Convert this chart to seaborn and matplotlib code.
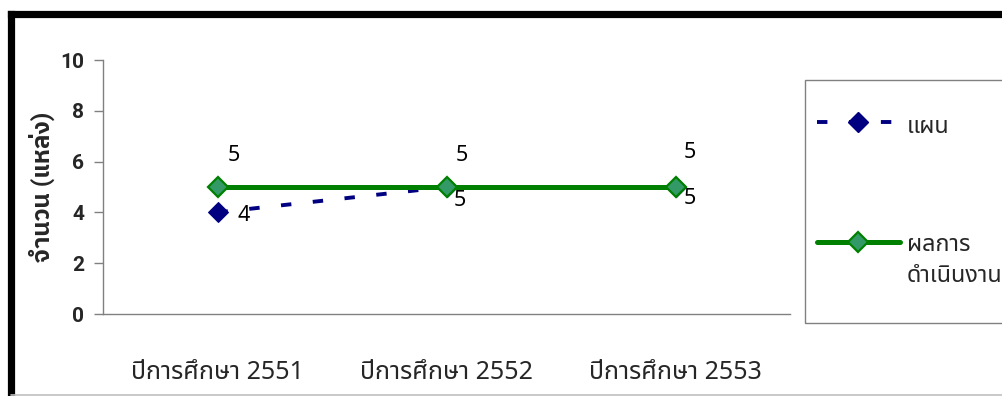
import matplotlib
matplotlib.use("Agg")
import matplotlib.pyplot as plt
from matplotlib.lines import Line2D
import seaborn as sns

# Data
years = ["ปีการศึกษา 2551", "ปีการศึกษา 2552", "ปีการศึกษา 2553"]
plan = [4, 5, 5]
actual = [5, 5, 5]
plan_name = "แผน"
actual_name = "ผลการ\nดำเนินงาน"
y_title = "จำนวน (แหล่ง)"
y_ticks = [0, 2, 4, 6, 8, 10]

sns.set_theme(style="white")
TEXT_FONT = ["Noto Sans", "Noto Sans Thai"]
BOLD_FONT = ["Roboto", "IBM Plex Sans Thai"]
plt.rcParams["font.family"] = TEXT_FONT
plt.rcParams["lines.scale_dashes"] = False

NAVY = "#000080"
GREEN = "#008000"
GREEN_FILL = "#339966"
AXIS_GREY = "#808080"

W, H = 1003, 396
fig = plt.figure(figsize=(W / 100, H / 100), dpi=100)
ax = fig.add_axes([103 / W, 1 - 314 / H, (790 - 103) / W, (314 - 60) / H])

PLAN_DASH = (0, (7.5, 15.5))
sns.lineplot(x=years, y=plan, ax=ax, color=NAVY, linewidth=2.8,
             linestyle=PLAN_DASH, marker="D", markersize=10,
             markerfacecolor=NAVY, markeredgecolor=NAVY, sort=False)
sns.lineplot(x=years, y=actual, ax=ax, color=GREEN, linewidth=3.6,
             marker="D", markersize=10.5, markerfacecolor=GREEN_FILL,
             markeredgecolor=GREEN, markeredgewidth=1.6, sort=False)

# value labels
plan_offsets = [(19, -2), (9.5, -9.5), (10, -8)]
actual_offsets = [(11.5, 23), (11, 23), (10, 25)]
for i, v in enumerate(plan):
    ax.annotate(str(v), (i, v), xytext=plan_offsets[i], textcoords="offset points",
                ha="center", va="center", fontsize=15.5, color="black")
for i, v in enumerate(actual):
    ax.annotate(str(v), (i, v), xytext=actual_offsets[i], textcoords="offset points",
                ha="center", va="center", fontsize=15.5, color="black")

ax.set_xlim(-0.5, len(years) - 0.5)
ax.set_ylim(0, 10)
ax.set_yticks(y_ticks)
ax.set_yticklabels([str(t) for t in y_ticks], fontsize=15, fontweight="bold",
                   family=BOLD_FONT)
ax.set_xticks(range(len(years)))
ax.set_xticklabels(years, fontsize=18)
ax.set_xticks([i - 0.5 for i in range(len(years) + 1)], minor=True)
ax.tick_params(axis="x", which="major", length=0, pad=33)
ax.tick_params(axis="x", which="minor", length=8, width=1, color=AXIS_GREY, direction="out")
ax.tick_params(axis="y", which="major", length=6.5, width=1, color=AXIS_GREY,
               direction="out", left=True, pad=7)
ax.set_ylabel(y_title, fontsize=17.5, fontweight="bold", family=BOLD_FONT, labelpad=4)
ax.set_xlabel("")
for side in ("top", "right"):
    ax.spines[side].set_visible(False)
for side in ("left", "bottom"):
    ax.spines[side].set_color(AXIS_GREY)
    ax.spines[side].set_linewidth(1)
ax.grid(False)

# legend box
lx0, ly0, ly1 = 805 / W, 1 - 80 / H, 1 - 323 / H
fig.add_artist(plt.Rectangle((lx0, ly1), 1.1 - lx0, ly0 - ly1, transform=fig.transFigure,
                             fill=False, edgecolor=AXIS_GREY, linewidth=1, clip_on=False))
hx = [817 / W, 900 / W]
y1 = 1 - 122 / H
y2 = 1 - 242 / H
fig.add_artist(Line2D(hx, [y1, y1], transform=fig.transFigure, color=NAVY, linewidth=2.8,
                      linestyle=PLAN_DASH))
fig.add_artist(Line2D([sum(hx) / 2], [y1], transform=fig.transFigure, marker="D",
                      markersize=10, color=NAVY, linestyle="none"))
fig.add_artist(Line2D(hx, [y2, y2], transform=fig.transFigure, color=GREEN, linewidth=3.6,
                      solid_capstyle="round"))
fig.add_artist(Line2D([sum(hx) / 2], [y2], transform=fig.transFigure, marker="D",
                      markersize=10.5, markerfacecolor=GREEN_FILL, markeredgecolor=GREEN,
                      markeredgewidth=1.6, linestyle="none"))
fig.text(907 / W, 1 - 127 / H, plan_name, fontsize=16.8, va="center", ha="left")
for k, line in enumerate(actual_name.split("\n")):
    fig.text(907 / W, 1 - (245 + 31 * k) / H, line, fontsize=16.8, va="center", ha="left")

# outer frame
fig.add_artist(Line2D([10.5 / W, 1.05], [1 - 13.5 / H, 1 - 13.5 / H], transform=fig.transFigure,
                      color="black", linewidth=5.2, solid_capstyle="projecting"))
fig.add_artist(Line2D([10.5 / W, 10.5 / W], [1 - 13.5 / H, -0.05], transform=fig.transFigure,
                      color="black", linewidth=5.2, solid_capstyle="projecting"))
fig.add_artist(Line2D([10.5 / W, 1.05], [1.5 / H, 1.5 / H], transform=fig.transFigure,
                      color="#c0c0c0", linewidth=1.2))

fig.savefig("out.png", dpi=100, facecolor="white")
